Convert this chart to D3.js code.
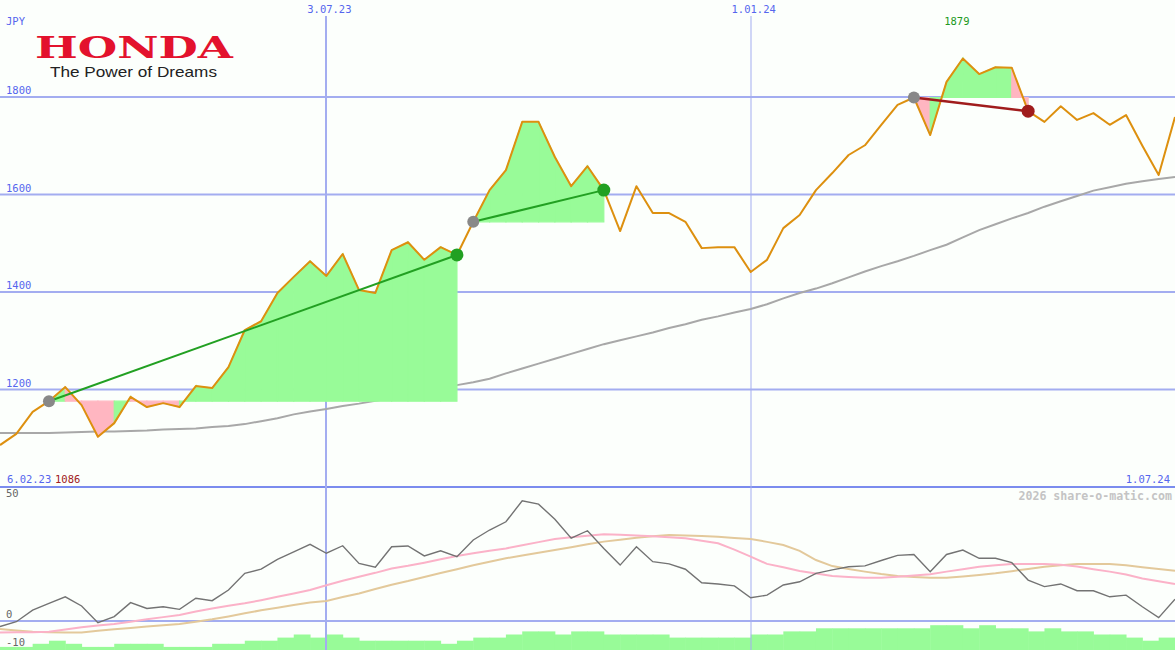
<!DOCTYPE html>
<html><head><meta charset="utf-8">
<script src="https://cdn.jsdelivr.net/npm/d3@7"></script>
<style>html,body{margin:0;padding:0;background:#fcfffc;}svg{display:block}</style>
</head><body><svg id="c" width="1175" height="650"></svg>
<script>
// ---- data ----
const weekDates = d3.timeMonday.range(new Date(2023,1,13), new Date(2024,6,2)); // 73 weekly points
const priceValues = [1086,1109,1154,1176,1205,1168,1103,1131,1185,1164,1172,1164,1207,1203,1246,1322,1340,1398,1431,1463,1433,1478,1404,1398,1486,1502,1466,1492,1476,1544,1609,1650,1749,1749,1677,1617,1658,1609,1525,1617,1562,1562,1544,1490,1492,1492,1441,1466,1531,1558,1609,1644,1681,1701,1743,1784,1799,1722,1831,1879,1847,1861,1860,1771,1749,1781,1753,1767,1743,1763,1700,1640,1759];
const movingAvg = [1111,1111,1111,1111,1112,1113,1114,1114,1115,1116,1118,1119,1120,1123,1125,1129,1135,1141,1149,1155,1160,1166,1171,1177,1182,1189,1196,1203,1209,1215,1222,1233,1243,1253,1263,1273,1283,1293,1301,1309,1317,1326,1334,1343,1350,1358,1365,1375,1387,1398,1407,1418,1430,1442,1453,1463,1474,1486,1497,1512,1527,1539,1551,1562,1575,1586,1597,1608,1615,1622,1627,1632,1636];
const oscValues = [-2.3,-0.3,4.5,7.3,10,6.2,-0.7,1.8,7.6,5.2,5.9,4.8,9.4,8.4,12.8,19.7,21.4,25.5,28.6,31.7,28,31.1,23.8,22.2,30.7,31,26.9,29,26.6,33.5,37.6,41,49.7,48.3,42,34.2,37.3,30,23.1,30.7,24.5,23.6,21.4,15.8,15.3,14.5,9.6,10.7,14.9,16.2,19.7,21.1,22.4,22.8,25,27.1,27.5,20.4,27.5,29.3,25.9,25.9,24.1,16.9,14.2,15.3,12.5,12.5,10,10.7,5.9,1.4,9];
const oscFast = [-4.8,-4.7,-4.6,-4.4,-3.5,-2.6,-1.9,-1.2,-0.3,0.7,1.6,2.5,3.9,5.2,6.3,7.3,8.6,10,11.4,12.8,14.8,16.6,18.3,19.9,21.7,22.8,24.1,25.5,26.9,28,29,30,31.3,32.6,33.9,34.6,35.2,35.8,35.6,35.3,35,34.6,34.2,33.2,32.1,29.5,26.6,23.6,22.2,20.7,19.6,18.6,18.2,17.9,17.9,18.3,18.8,19.3,20.4,21.4,22.4,23,23.6,23.6,23.6,23.2,22.5,21.4,20.4,19.2,17.6,16.4,15.3];
const oscSlow = [-3.3,-3.9,-4.4,-4.6,-4.8,-4.8,-4.0,-3.4,-2.9,-2.3,-1.8,-1.2,-0.3,0.7,1.9,3.2,4.4,5.5,6.6,7.6,8.3,9.9,11.4,13.2,15,16.5,18.2,19.8,21.4,23,24.5,25.9,27.1,28.2,29.3,30.5,31.7,32.8,33.6,34.4,35,35.5,35.3,35.1,34.8,34.3,33.9,32.7,31.4,29,25.2,22.7,21.5,20.4,19.4,18.6,18.2,17.9,17.9,18.4,19,19.7,20.6,21.5,22.4,23,23.6,23.6,23.6,23,22.2,21.5,20.8];
const barLevels = [1,1,2,3,2,1,1,2,2,2,1,1,1,2,2,3,3,4,5,4,5,4,3,3,3,3,3,2,3,4,4,5,6,6,5,6,6,5,5,5,5,4,4,4,4,4,5,5,6,6,7,7,7,7,7,7,7,8,8,7,8,7,7,6,7,6,6,5,5,4,3,4];
const priceTicks = [1200,1400,1600,1800];
const oscTickLabels = ["50","0","-10"];
const oscTickValues = [50,0,-10];
const dateTicks = [new Date(2023,6,3), new Date(2024,0,1)];
const dateTickLabels = ["3.07.23","1.01.24"];
const startLabel = "6.02.23", endLabel = "1.07.24";
const trends = [
  {from:3, to:28, up:true},
  {from:29, to:37, up:true},
  {from:56, to:63, up:false}
];

// ---- scales ----
const W = 1175, H = 650;
const svg = d3.select("#c");
const x = d3.scaleTime().domain([weekDates[0], weekDates[weekDates.length-1]]).range([0, W]);
const y = d3.scaleLinear().domain([1000, 2000]).range([487, -0.5]);
const yo = d3.scaleLinear().domain([-10, 50]).range([645.2, 500]);
const yb = d3.scaleLinear().domain([0, 8]).range([650, 625.2]);

const font = "DejaVu Sans Mono, monospace";
svg.append("rect").attr("width", W).attr("height", H).attr("fill", "#fcfffc");

// bars (bottom)
svg.append("g").selectAll("rect").data(barLevels).join("rect")
  .attr("x", (d,i) => x(weekDates[i]))
  .attr("width", (d,i) => x(weekDates[i+1]) - x(weekDates[i]) + 0.5)
  .attr("y", d => yb(d)).attr("height", d => 650 - yb(d))
  .attr("fill", "#98fb98");

// horizontal grid
svg.append("g").selectAll("line").data(priceTicks).join("line")
  .attr("x1", 0).attr("x2", W).attr("y1", d => y(d)).attr("y2", d => y(d))
  .attr("stroke", "#a3adf0").attr("stroke-width", 2);
svg.append("line").attr("x1",0).attr("x2",W).attr("y1",yo(0)).attr("y2",yo(0))
  .attr("stroke","#a3adf0").attr("stroke-width",2);
svg.append("line").attr("x1",0).attr("x2",W).attr("y1",487).attr("y2",487)
  .attr("stroke","#7b8cee").attr("stroke-width",2);

// vertical grid
svg.append("g").selectAll("line").data(dateTicks).join("line")
  .attr("x1", d => Math.round(x(d))).attr("x2", d => Math.round(x(d)))
  .attr("y1", 16).attr("y2", H)
  .attr("stroke", "#a3adf0").attr("stroke-width", (d,i) => i === 0 ? 2 : 1);

// moving average in price panel
svg.append("path").datum(movingAvg)
  .attr("d", d3.line().x((d,i) => x(weekDates[i])).y(d => y(d)))
  .attr("fill","none").attr("stroke","#a8a8a8").attr("stroke-width",2);

// trend fills (per interval, colored by side of the interval end)
const fillG = svg.append("g");
trends.forEach(t => {
  const base = priceValues[t.from];
  for (let k = t.from; k < t.to; k++) {
    const seg = [k, k+1];
    const col = priceValues[k+1] >= base ? "#98fb98" : "#ffb6c1";
    fillG.append("path").datum(seg)
      .attr("d", d3.area().x(i => x(weekDates[i])).y0(y(base)).y1(i => y(priceValues[i]))(seg))
      .attr("fill", col).attr("stroke", col).attr("stroke-width", 1.2).attr("stroke-linejoin","miter");
  }
});

// price line
svg.append("path").datum(priceValues)
  .attr("d", d3.line().x((d,i) => x(weekDates[i])).y(d => y(d)))
  .attr("fill","none").attr("stroke","#dd900f").attr("stroke-width",2).attr("stroke-linejoin","round");

// trend lines & dots
trends.forEach(t => {
  const col = t.up ? "#22a022" : "#a01c1c";
  svg.append("line")
    .attr("x1", x(weekDates[t.from])).attr("y1", y(priceValues[t.from]))
    .attr("x2", x(weekDates[t.to])).attr("y2", y(priceValues[t.to]))
    .attr("stroke", col).attr("stroke-width", t.up ? 2 : 2.5);
  svg.append("circle").attr("cx", x(weekDates[t.from])).attr("cy", y(priceValues[t.from]))
    .attr("r", 6).attr("fill", "#888");
  svg.append("circle").attr("cx", x(weekDates[t.to])).attr("cy", y(priceValues[t.to]))
    .attr("r", 6.5).attr("fill", col);
});

// oscillator lines
const lo = d3.line().x((d,i) => x(weekDates[i])).y(d => yo(d));
svg.append("path").datum(oscSlow).attr("d", lo).attr("fill","none").attr("stroke","#e3c99b").attr("stroke-width",2);
svg.append("path").datum(oscFast).attr("d", lo).attr("fill","none").attr("stroke","#fbb2c8").attr("stroke-width",2);
svg.append("path").datum(oscValues).attr("d", lo).attr("fill","none").attr("stroke","#737373").attr("stroke-width",1.4);

// texts
const txt = (s, px, py, opts={}) => svg.append("text").text(s).attr("x", px).attr("y", py)
  .attr("font-family", opts.family || font).attr("font-size", opts.size || 10.5)
  .attr("font-weight", opts.weight || "normal")
  .attr("fill", opts.color || "#5566ee").attr("text-anchor", opts.anchor || "start");

txt("JPY", 6, 25);
priceTicks.forEach(v => txt(String(v), 6, y(v) - 3));
dateTicks.forEach((d,i) => txt(dateTickLabels[i], x(d) + 3, 13, {anchor:"middle"}));
txt(startLabel, 7, 483);
const minV = d3.min(priceValues), maxV = d3.max(priceValues), maxI = priceValues.indexOf(maxV);
txt(String(minV), 55, 483, {color:"#a02020"});
txt(String(maxV), x(weekDates[maxI]) - 6, 25, {color:"#229922", anchor:"middle"});
txt(endLabel, 1170, 483, {anchor:"end"});
txt("2026 share-o-matic.com", 1172, 500, {anchor:"end", color:"#c4c4c4", weight:"bold", size:11.6});
oscTickValues.forEach((v,i) => txt(oscTickLabels[i], 6, yo(v) - 3 + (v === -10 ? 4 : 0), {color:"#666"}));

// logo
svg.append("text").text("HONDA").attr("x", 35).attr("y", 58)
  .attr("font-family", "DejaVu Serif, serif").attr("font-weight", "bold").attr("font-size", 30)
  .attr("textLength", 198).attr("lengthAdjust", "spacingAndGlyphs").attr("fill", "#e3122d");
svg.append("text").text("The Power of Dreams").attr("x", 50).attr("y", 77)
  .attr("font-family", "Liberation Sans, Arial, sans-serif").attr("font-size", 15)
  .attr("textLength", 167).attr("lengthAdjust", "spacingAndGlyphs").attr("fill", "#222");
</script></body></html>
